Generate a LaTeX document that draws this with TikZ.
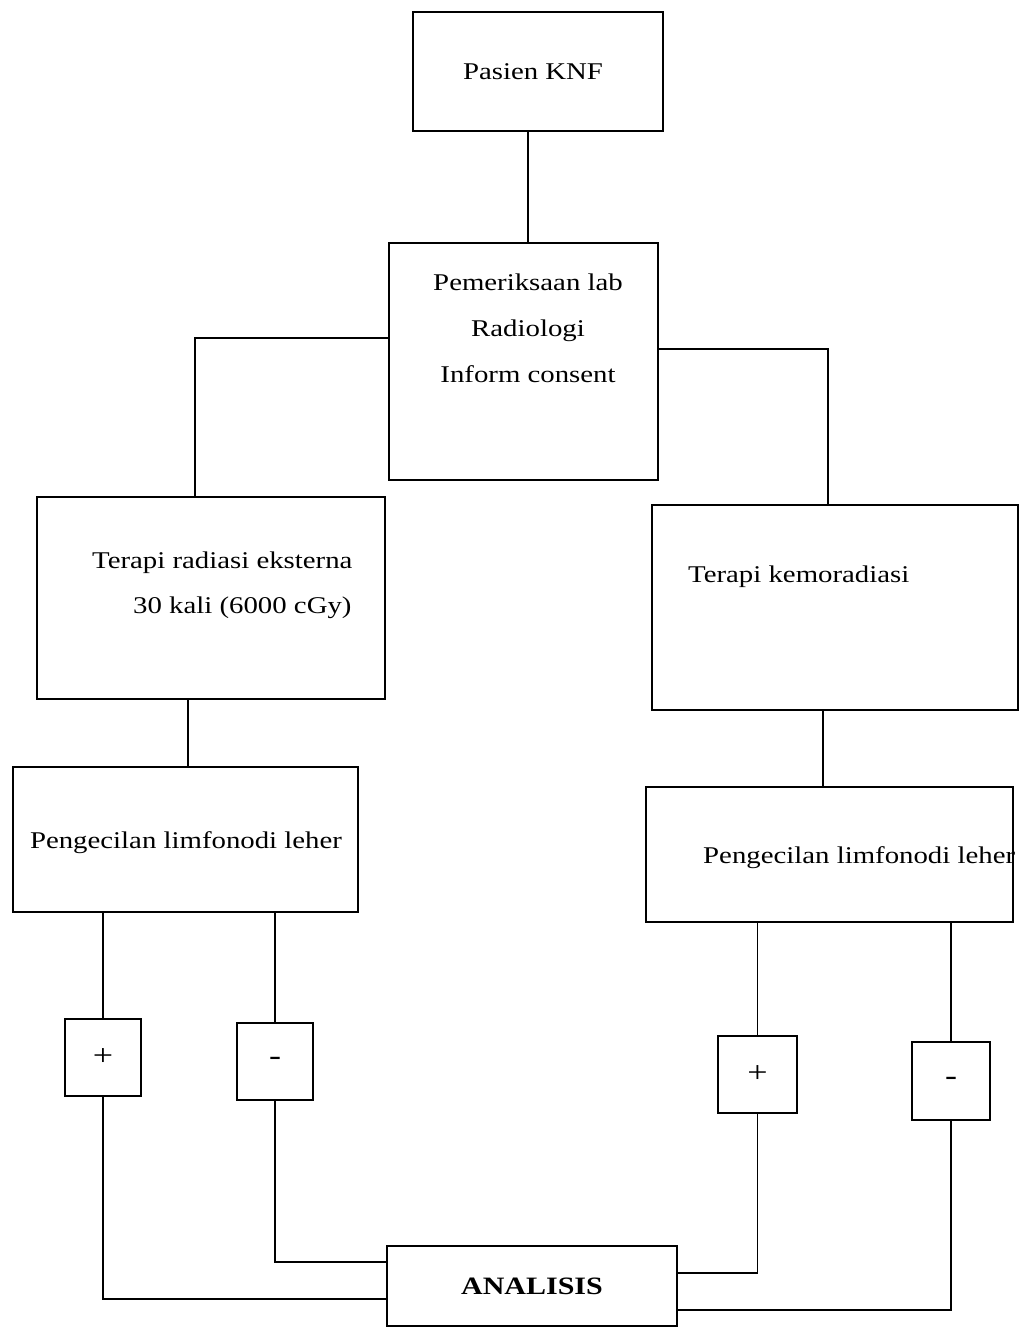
\documentclass[tikz,border=0pt]{standalone}
\usepackage{fontspec}
\setmainfont[FakeStretch=1.2]{Liberation Serif}
\begin{document}
\begin{tikzpicture}[x=1pt,y=-1pt,
  box/.style={draw,line width=1.6pt,inner sep=0pt,minimum width=#1},
  txt/.style={inner sep=0pt,font=\fontsize{24}{28}\selectfont},
  sign/.style={inner sep=0pt,font=\fontsize{30}{34}\selectfont},
  conn/.style={line width=1.3pt}]
\useasboundingbox[fill=white] (0,0) rectangle (1020,1329);
% boxes
\node[box=250pt,minimum height=119pt] (pasien) at (538,71.5) {};
\node[txt] (tpasien) at (533,72) {Pasien KNF};
\node[box=269pt,minimum height=237pt] (pem) at (523.5,361.5) {};
\node[txt,align=center] (tpem) at (528,328) {Pemeriksaan lab\\[18pt]Radiologi\\[18pt]Inform consent};
\node[box=348pt,minimum height=202pt] (rad) at (211,598) {};
\node[txt,anchor=west] (trad1) at (92,563) {Terapi radiasi eksterna};
\node[txt,anchor=west] (trad2) at (133,608) {30 kali (6000 cGy)};
\node[box=366pt,minimum height=205pt] (kemo) at (835,607.5) {};
\node[txt,anchor=west] (tkemo) at (688,577) {Terapi kemoradiasi};
\node[box=345pt,minimum height=145pt] (peng1) at (185.5,839.5) {};
\node[txt] (tpeng1) at (186,843) {Pengecilan limfonodi leher};
\node[box=367pt,minimum height=135pt] (peng2) at (829.5,854.5) {};
\node[txt,anchor=west] (tpeng2) at (703,858) {Pengecilan limfonodi leher};
\node[box=76pt,minimum height=77pt,sign] (p1) at (103,1057.5) {+};
\node[box=76pt,minimum height=77pt,sign] (m1) at (275,1061.5) {-};
\node[box=79pt,minimum height=77pt,sign] (p2) at (757.5,1074.5) {+};
\node[box=78pt,minimum height=78pt,sign] (m2) at (951,1081) {-};
\node[box=290pt,minimum height=80pt,font=\fontsize{25}{30}\selectfont\bfseries] (ana) at (532,1286) {ANALISIS};
% connectors
\draw[conn] ([xshift=-10pt]pasien.south) -- ([xshift=-10pt]pasien.south |- pem.north);
\draw[conn] ([yshift=23.5pt]pem.west) -| ([xshift=-16pt]rad.north);
\draw[conn] ([yshift=12.5pt]pem.east) -| ([xshift=-7pt]kemo.north);
\draw[conn] ([xshift=-23pt]rad.south) -- ([xshift=-23pt]rad.south |- peng1.north);
\draw[conn] ([xshift=-12pt]kemo.south) -- ([xshift=-12pt]kemo.south |- peng2.north);
\draw[conn] (p1.north |- peng1.south) -- (p1.north);
\draw[conn] (m1.north |- peng1.south) -- (m1.north);
\draw[conn] (p2.north |- peng2.south) -- (p2.north);
\draw[conn] (m2.north |- peng2.south) -- (m2.north);
\draw[conn] (p1.south) |- ([yshift=-13pt]ana.west);
\draw[conn] (m1.south) |- ([yshift=24pt]ana.west);
\draw[conn] (p2.south) |- ([yshift=13pt]ana.east);
\draw[conn] (m2.south) |- ([yshift=-24pt]ana.east);
\end{tikzpicture}
\end{document}
